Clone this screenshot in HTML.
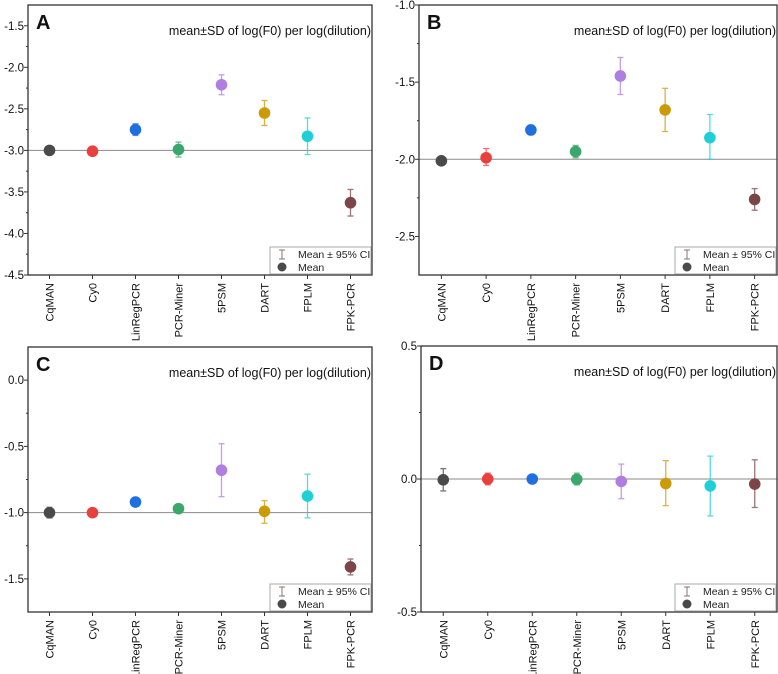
<!DOCTYPE html>
<html><head><meta charset="utf-8"><style>
html,body{margin:0;padding:0;background:#fff}
svg{display:block;font-family:"Liberation Sans",sans-serif}
</style></head><body>
<svg id="chart" width="778" height="674" viewBox="0 0 778 674"></svg>
<script>
const categories=["CqMAN","Cy0","LinRegPCR","PCR-Miner","5PSM","DART","FPLM","FPK-PCR"];
const colors=["#4a4a4a","#e8403d","#1f6fe0","#3aa86a","#b07ee0","#cc9a06","#1fcfd8","#7a4646"];
const meanA=[-3.0,-3.01,-2.75,-2.99,-2.21,-2.55,-2.83,-3.63];
const loA=[-3.0,-3.01,-2.82,-3.08,-2.33,-2.70,-3.05,-3.79];
const hiA=[-3.0,-3.01,-2.68,-2.90,-2.09,-2.40,-2.61,-3.47];
const meanB=[-2.01,-1.99,-1.81,-1.95,-1.46,-1.68,-1.86,-2.26];
const loB=[-2.01,-2.04,-1.84,-1.99,-1.58,-1.82,-2.00,-2.33];
const hiB=[-2.01,-1.93,-1.78,-1.91,-1.34,-1.54,-1.71,-2.19];
const meanC=[-1.0,-1.0,-0.92,-0.97,-0.68,-0.99,-0.875,-1.41];
const loC=[-1.04,-1.0,-0.92,-0.97,-0.88,-1.08,-1.04,-1.47];
const hiC=[-0.96,-1.0,-0.92,-0.97,-0.48,-0.91,-0.71,-1.35];
const meanD=[-0.003,0.0,0.0,-0.001,-0.009,-0.017,-0.026,-0.019];
const loD=[-0.045,-0.022,-0.012,-0.022,-0.074,-0.10,-0.139,-0.107];
const hiD=[0.039,0.022,0.012,0.022,0.056,0.069,0.086,0.072];
const ticksA=[-1.5,-2.0,-2.5,-3.0,-3.5,-4.0,-4.5];
const ticksB=[-1.0,-1.5,-2.0,-2.5];
const ticksC=[0.0,-0.5,-1.0,-1.5];
const ticksD=[0.5,0.0,-0.5];
const refValues=[-3,-2,-1,0];

const panels=[
 {id:"A",l:28,r:372,t:5,b:275,ymin:-4.5,ymax:-1.25,ticks:ticksA,mean:meanA,lo:loA,hi:hiA,ref:refValues[0]},
 {id:"B",l:419,r:777,t:5,b:275,ymin:-2.75,ymax:-1.0,ticks:ticksB,mean:meanB,lo:loB,hi:hiB,ref:refValues[1]},
 {id:"C",l:28,r:372,t:347,b:612,ymin:-1.75,ymax:0.25,ticks:ticksC,mean:meanC,lo:loC,hi:hiC,ref:refValues[2]},
 {id:"D",l:421,r:777,t:346,b:612,ymin:-0.5,ymax:0.5,ticks:ticksD,mean:meanD,lo:loD,hi:hiD,ref:refValues[3]}
];
const svg=document.getElementById("chart");
const NS="http://www.w3.org/2000/svg";
function mk(tag,attrs,parent){const e=document.createElementNS(NS,tag);for(const k in attrs)e.setAttribute(k,attrs[k]);(parent||svg).appendChild(e);return e;}

panels.forEach(p=>{
 const g=mk("g",{});
 
 
 const x=i=>p.l+(p.r-p.l)*(i+0.5)/categories.length;
 const y=v=>p.b-(v-p.ymin)/(p.ymax-p.ymin)*(p.b-p.t);
 const ref=mk("line",{x1:p.l,x2:p.r,y1:y(p.ref),y2:y(p.ref),stroke:"#8a8a8a","stroke-width":1},g);
 
 
 const fr=mk("rect",{x:p.l,y:p.t,width:p.r-p.l,height:p.b-p.t,fill:"none",stroke:"#333","stroke-width":1.3},g);
 
 
 p.ticks.forEach((v,k)=>{
  mk("line",{x1:p.l-4,x2:p.l,y1:y(v),y2:y(v),stroke:"#333"},g);
  if(k<p.ticks.length-1){const m=(v+p.ticks[k+1])/2;mk("line",{x1:p.l-2,x2:p.l,y1:y(m),y2:y(m),stroke:"#333"},g);}
  const t=mk("text",{x:p.l-4,y:y(v)+4,"text-anchor":"end","font-size":11.5,fill:"#111"},g);
  t.textContent=v.toFixed(1);
  
  
 });
 categories.forEach((c,i)=>{
  mk("line",{x1:x(i),x2:x(i),y1:p.b,y2:p.b+4,stroke:"#333"},g);
  const t=mk("text",{x:0,y:0,"text-anchor":"end","font-size":11,fill:"#111",transform:`translate(${x(i)+4},${p.b+8}) rotate(-90)`},g);
  t.textContent=c;
  
  
 });
 categories.forEach((c,i)=>{
  const col=colors[i];
  if(p.hi[i]!==p.lo[i]){
   const eb=mk("g",{stroke:col,"stroke-width":1.3,opacity:0.75},g);
   
   
   mk("line",{x1:x(i),x2:x(i),y1:y(p.hi[i]),y2:y(p.lo[i])},eb);
   mk("line",{x1:x(i)-3,x2:x(i)+3,y1:y(p.hi[i]),y2:y(p.hi[i])},eb);
   mk("line",{x1:x(i)-3,x2:x(i)+3,y1:y(p.lo[i]),y2:y(p.lo[i])},eb);
  }
  const pt=mk("circle",{cx:x(i),cy:y(p.mean[i]),r:5.8,fill:col},g);
  
  
 });
 const L=mk("text",{x:p.l+8,y:p.t+24,"font-size":20,"font-weight":"bold",fill:"#111"},g);
 L.textContent=p.id;
 
 
 const T=mk("text",{x:p.r-1,y:p.t+30,"text-anchor":"end","font-size":12.5,fill:"#111"},g);
 T.textContent="mean±SD of log(F0) per log(dilution)";
 
 
 const lg=mk("g",{},g);
 
 
 const lx=p.r-102,ly=p.b-28;
 mk("rect",{x:lx,y:ly,width:101,height:27,fill:"#fff",stroke:"#aaa"},lg);
 mk("line",{x1:lx+12,x2:lx+12,y1:ly+3,y2:ly+12,stroke:"#8a7070"},lg);
 mk("line",{x1:lx+9,x2:lx+15,y1:ly+3,y2:ly+3,stroke:"#8a7070"},lg);
 mk("line",{x1:lx+9,x2:lx+15,y1:ly+12,y2:ly+12,stroke:"#8a7070"},lg);
 const t1=mk("text",{x:lx+28,y:ly+11,"font-size":10.5,fill:"#222"},lg);t1.textContent="Mean ± 95% CI";
 
 
 mk("circle",{cx:lx+12,cy:ly+20,r:4.5,fill:"#4a4a4a"},lg);
 const t2=mk("text",{x:lx+28,y:ly+24,"font-size":10.5,fill:"#222"},lg);t2.textContent="Mean";
 
 
});
</script>
</body></html>
